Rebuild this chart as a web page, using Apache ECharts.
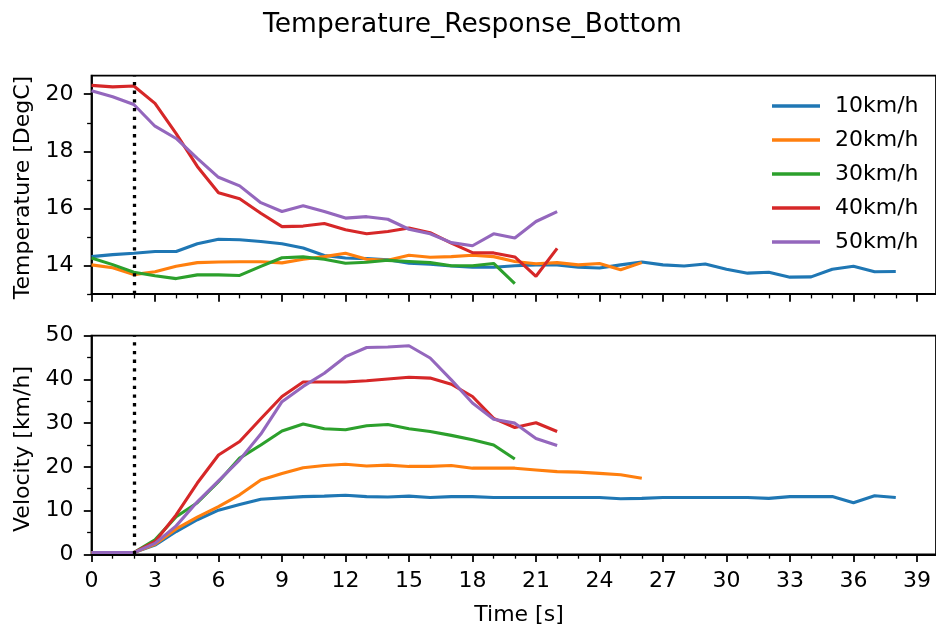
<!DOCTYPE html>
<html>
<head>
<meta charset="utf-8">
<script src="https://cdn.jsdelivr.net/npm/echarts@6/dist/echarts.min.js"></script>
<style>
html,body{margin:0;padding:0;background:#fff;}
#chart{width:936px;height:628px;}
</style>
</head>
<body>
<div id="chart"></div>
<script>
// ---- data ----
const time = [0,1,2,3,4,5,6,7,8,9,10,11,12,13,14,15,16,17,18,19,20,21,22,23,24,25,26,27,28,29,30,31,32,33,34,35,36,37,38];
const seriesNames = ['10km/h','20km/h','30km/h','40km/h','50km/h'];
const colors = ['#1f77b4','#ff7f0e','#2ca02c','#d62728','#9467bd'];

const temp10 = [14.31,14.38,14.43,14.49,14.49,14.76,14.92,14.90,14.84,14.76,14.61,14.35,14.26,14.24,14.20,14.08,14.04,13.98,13.94,13.94,13.99,14.02,14.02,13.94,13.91,14.02,14.12,14.02,13.98,14.05,13.87,13.73,13.76,13.59,13.60,13.87,13.97,13.78,13.79];
const temp20 = [14.02,13.92,13.68,13.78,13.97,14.10,14.12,14.13,14.13,14.09,14.22,14.31,14.43,14.22,14.18,14.36,14.29,14.31,14.36,14.31,14.14,14.06,14.10,14.02,14.07,13.85,14.10];
const temp30 = [14.26,14.03,13.76,13.64,13.54,13.67,13.67,13.65,13.97,14.27,14.30,14.22,14.08,14.11,14.18,14.14,14.10,13.99,13.99,14.07,13.36];
const temp40 = [20.31,20.26,20.29,19.68,18.62,17.47,16.55,16.34,15.83,15.36,15.38,15.47,15.25,15.11,15.19,15.31,15.15,14.78,14.45,14.44,14.30,13.62,14.60];
const temp50 = [20.12,19.91,19.64,18.88,18.45,17.75,17.09,16.79,16.20,15.89,16.09,15.89,15.66,15.71,15.62,15.27,15.11,14.80,14.69,15.11,14.96,15.54,15.89];

const vel10 = [0.4,0.4,0.4,2.1,5.2,7.9,10.1,11.4,12.6,12.9,13.2,13.3,13.5,13.2,13.1,13.3,13.0,13.2,13.2,13.0,13.0,13.0,13.0,13.0,13.0,12.7,12.8,13.0,13.0,13.0,13.0,13.0,12.8,13.2,13.2,13.2,11.8,13.4,13.0];
const vel20 = [0.4,0.4,0.4,2.3,5.8,8.5,10.9,13.6,17.0,18.5,19.8,20.3,20.6,20.2,20.4,20.1,20.1,20.3,19.7,19.7,19.7,19.3,18.9,18.8,18.5,18.2,17.4];
const vel30 = [0.4,0.4,0.4,3.3,8.6,11.8,16.6,22.0,25.0,28.2,29.8,28.7,28.5,29.4,29.7,28.7,28.1,27.2,26.2,25.0,21.8];
const vel40 = [0.4,0.4,0.4,2.9,9.0,16.3,22.7,25.8,31.0,36.1,39.4,39.4,39.4,39.7,40.1,40.5,40.3,38.9,36.1,31.1,29.0,30.1,28.1];
const vel50 = [0.4,0.4,0.4,2.5,6.5,12.0,16.8,21.6,27.5,34.9,38.4,41.4,45.2,47.3,47.4,47.7,44.9,39.9,34.6,30.9,30.0,26.5,24.9];

const startTime = [2];

const xMajorTicks = [0,3,6,9,12,15,18,21,24,27,30,33,36,39];
const xMinorTicks = [1,2,4,5,7,8,10,11,13,14,16,17,19,20,22,23,25,26,28,29,31,32,34,35,37,38];
const tempMajorTicks = [14,16,18,20];
const tempMinorTicks = [13,15,17,19];
const velMajorTicks = [0,10,20,30,40,50];
const velMinorTicks = [5,15,25,35,45];

const titleText = 'Temperature_Response_Bottom';
const xName = 'Time [s]';
const tempName = 'Temperature [DegC]';
const velName = 'Velocity [km/h]';

// ---- build ----
const FONT = 'DejaVu Sans';
const FS = 22;
const tempSets = [temp10,temp20,temp30,temp40,temp50];
const velSets = [vel10,vel20,vel30,vel40,vel50];
const pairs = arr => arr.map((v,i)=>[time[i], v]);

const grids = [
  {left:91.5, top:75.7, width:851.9, height:218.3},
  {left:91.5, top:335.7, width:851.9, height:218.6}
];

function xAx(gi, ticks, len, w, labels){
  return {
    type:'value', gridIndex:gi, min:0, max:39.9, position:'bottom',
    axisLine:{show:labels!==null, lineStyle:{color:'#000', width:1.76}},
    axisTick:{show:true, customValues:ticks, length:len, lineStyle:{color:'#000', width:w}},
    axisLabel:{show:!!labels, customValues:ticks, margin:16, fontFamily:FONT, fontSize:FS, color:'#000'},
    splitLine:{show:false}
  };
}
function yAx(gi, min, max, ticks, len, w, labels){
  return {
    type:'value', gridIndex:gi, min:min, max:max, position:'left',
    axisLine:{show:!!labels, lineStyle:{color:'#000', width:1.76}},
    axisTick:{show:true, customValues:ticks, length:len, lineStyle:{color:'#000', width:w}},
    axisLabel:{show:!!labels, customValues:ticks, margin:18, fontFamily:FONT, fontSize:FS, color:'#000'},
    splitLine:{show:false}
  };
}

const xAxes = [
  xAx(0, xMajorTicks, 7.7, 1.76, false),
  xAx(0, xMinorTicks, 4.4, 1.3, undefined),
  xAx(1, xMajorTicks, 7.7, 1.76, true),
  xAx(1, xMinorTicks, 4.4, 1.3, undefined)
];
xAxes[0].axisLine.show = true;
xAxes[1].axisLine.show = false;
xAxes[3].axisLine.show = false;

const yAxes = [
  yAx(0, 13.0, 20.65, tempMajorTicks, 7.7, 1.76, true),
  yAx(0, 13.0, 20.65, tempMinorTicks, 4.4, 1.3, false),
  yAx(1, 0, 50, velMajorTicks, 7.7, 1.76, true),
  yAx(1, 0, 50, velMinorTicks, 4.4, 1.3, false)
];

const markLineCfg = {
  silent:true, symbol:['none','none'], animation:false,
  label:{show:false},
  lineStyle:{color:'#000', type:[3.3,5.4], width:3.3, cap:'butt'},
  data: startTime.map(t=>({xAxis:t}))
};

const series = [];
seriesNames.forEach((n,i)=>{
  const s = {
    name:n, type:'line', xAxisIndex:0, yAxisIndex:0,
    data:pairs(tempSets[i]), symbol:'none', showSymbol:false,
    lineStyle:{color:colors[i], width:3.1}, itemStyle:{color:colors[i]},
    animation:false, z:3
  };
  if(i===0) s.markLine = markLineCfg;
  series.push(s);
});
seriesNames.forEach((n,i)=>{
  const s = {
    name:n+'_v', type:'line', xAxisIndex:2, yAxisIndex:2,
    data:pairs(velSets[i]), symbol:'none', showSymbol:false,
    lineStyle:{color:colors[i], width:3.1}, itemStyle:{color:colors[i]},
    animation:false, z:3
  };
  if(i===0) s.markLine = markLineCfg;
  series.push(s);
});

const option = {
  animation:false,
  backgroundColor:'#fff',
  grid: grids.map(g=>Object.assign({show:true, borderColor:'#000', borderWidth:1.76, backgroundColor:'transparent'}, g)),
  xAxis: xAxes,
  yAxis: yAxes,
  legend:{
    data: seriesNames,
    orient:'vertical', left:772, top:94, padding:0,
    icon:'rect', itemWidth:48, itemHeight:3.3, itemGap:10,
    textStyle:{fontFamily:FONT, fontSize:FS, color:'#000', lineHeight:24, padding:[0,0,0,10]},
    selectedMode:false
  },
  graphic:[
    {type:'text', x:472.5, y:25, style:{text:titleText, fontFamily:FONT, fontSize:26.5, fill:'#000', align:'center', verticalAlign:'middle'}},
    {type:'text', x:519, y:615, style:{text:xName, fontFamily:FONT, fontSize:FS, fill:'#000', align:'center', verticalAlign:'middle'}},
    {type:'text', x:23, y:187.5, rotation:Math.PI/2, style:{text:tempName, fontFamily:FONT, fontSize:FS, fill:'#000', align:'center', verticalAlign:'middle'}},
    {type:'text', x:23, y:449, rotation:Math.PI/2, style:{text:velName, fontFamily:FONT, fontSize:FS, fill:'#000', align:'center', verticalAlign:'middle'}}
  ],
  series: series
};

const chart = echarts.init(document.getElementById('chart'), null, {renderer:'canvas'});
chart.setOption(option);
</script>
</body>
</html>
